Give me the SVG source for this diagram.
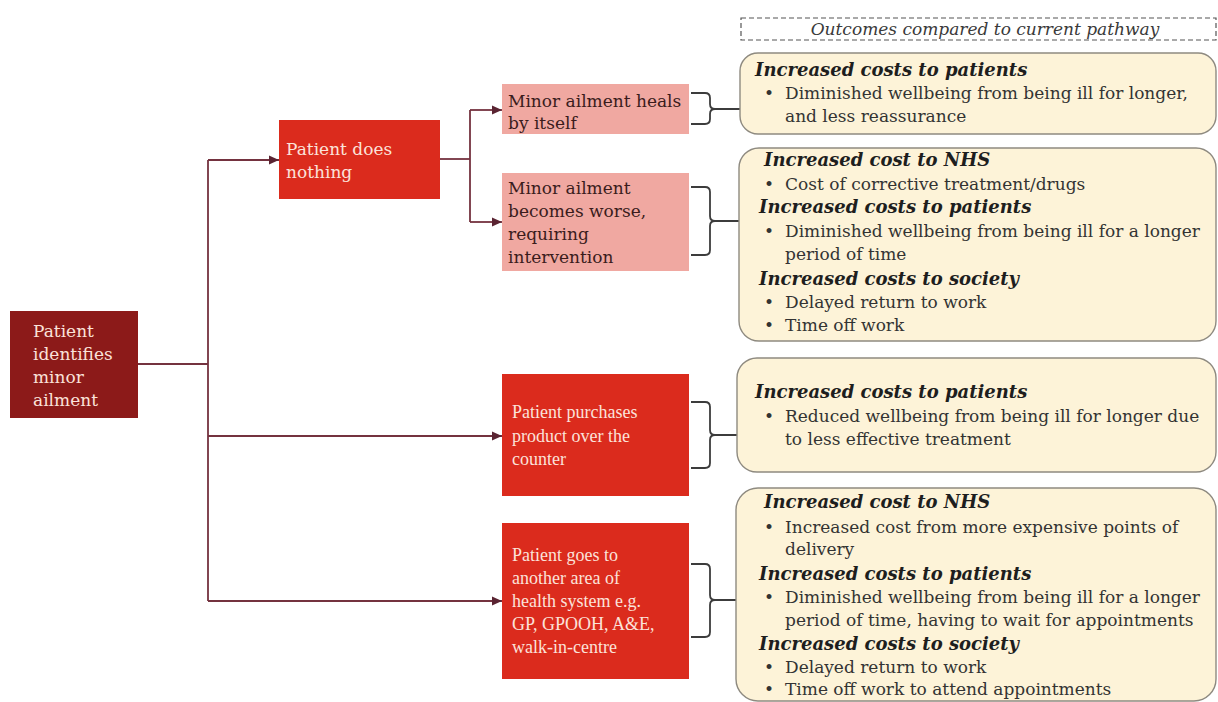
<svg xmlns="http://www.w3.org/2000/svg" width="1218" height="702" viewBox="0 0 1218 702">
  <defs>
    <marker id="arrow" markerUnits="userSpaceOnUse" markerWidth="10" markerHeight="10" refX="10" refY="5" orient="auto">
      <path d="M0,0.5 L10,5 L0,9.5 z" fill="#5a2432"/>
    </marker>
    <style>
      .link { fill: none; stroke: #74323f; stroke-width: 1.8; }
      .brace { fill: none; stroke: #3c3c3c; stroke-width: 1.8; }
      .root { fill: #8c1a19; }
      .red { fill: #db2b1d; }
      .pink { fill: #f0a8a1; }
      .outcome { fill: #fdf3d8; stroke: #8e8a80; stroke-width: 1.4; }
      .t { font-family: "DejaVu Serif", "Liberation Serif", serif; font-size: 17px; }
      .tn { font-family: "Liberation Serif", "DejaVu Serif", serif; font-size: 18px; }
      .light { fill: #fbe2da; }
      .dark { fill: #3a1c1c; }
      .body { font-family: "DejaVu Serif", "Liberation Serif", serif; font-size: 17px; fill: #333; }
      .head { font-family: "DejaVu Serif", "Liberation Serif", serif; font-size: 18px; font-weight: bold; font-style: italic; fill: #1e1e1e; }
      .note { font-family: "DejaVu Serif", "Liberation Serif", serif; font-size: 17px; font-style: italic; fill: #3a3a3a; }
    </style>
  </defs>

  <!-- connectors -->
  <g id="connectors">
    <path class="link" d="M138,364 H208"/>
    <path class="link" d="M208,160 V601"/>
    <path class="link" d="M208,160 H279" marker-end="url(#arrow)"/>
    <path class="link" d="M208,436 H502" marker-end="url(#arrow)"/>
    <path class="link" d="M208,601 H502" marker-end="url(#arrow)"/>
    <path class="link" d="M440,159 H470"/>
    <path class="link" d="M470,110 V222"/>
    <path class="link" d="M470,110 H502" marker-end="url(#arrow)"/>
    <path class="link" d="M470,222 H502" marker-end="url(#arrow)"/>
    <!-- braces joining each option to its outcomes -->
    <path class="brace" d="M691,93 H705 Q710,93 710,98 V104 Q710,109 715,109 Q710,109 710,114 V119 Q710,124 705,124 H691 M715,109 H740"/>
    <path class="brace" d="M691,187 H705 Q710,187 710,192 V216 Q710,221 715,221 Q710,221 710,226 V250 Q710,255 705,255 H691 M715,221 H739"/>
    <path class="brace" d="M691,402 H705 Q710,402 710,407 V430 Q710,435 715,435 Q710,435 710,440 V463 Q710,468 705,468 H691 M715,435 H737"/>
    <path class="brace" d="M691,564 H705 Q710,564 710,569 V595 Q710,600 715,600 Q710,600 710,605 V632 Q710,637 705,637 H691 M715,600 H736"/>
  </g>

  <!-- starting point -->
  <g id="identifies">
    <rect class="root" x="10" y="311" width="128" height="107"/>
    <text class="t light"><tspan x="33" y="337">Patient</tspan><tspan x="33" y="360">identifies</tspan><tspan x="33" y="383">minor</tspan><tspan x="33" y="406">ailment</tspan></text>
  </g>

  <g id="does-nothing">
    <rect class="red" x="279" y="120" width="161" height="79"/>
    <text class="t light"><tspan x="286" y="155">Patient does</tspan><tspan x="286" y="178">nothing</tspan></text>
  </g>

  <g id="heals">
    <rect class="pink" x="502" y="84" width="187" height="50"/>
    <text class="t dark"><tspan x="508" y="107">Minor ailment heals</tspan><tspan x="508" y="129">by itself</tspan></text>
  </g>

  <g id="worse">
    <rect class="pink" x="502" y="173" width="187" height="98"/>
    <text class="t dark"><tspan x="508" y="194">Minor ailment</tspan><tspan x="508" y="217">becomes worse,</tspan><tspan x="508" y="240">requiring</tspan><tspan x="508" y="263">intervention</tspan></text>
  </g>

  <g id="purchases">
    <rect class="red" x="502" y="374" width="187" height="122"/>
    <text class="tn light"><tspan x="512" y="418">Patient purchases</tspan><tspan x="512" y="442">product over the</tspan><tspan x="512" y="465">counter</tspan></text>
  </g>

  <g id="other-area">
    <rect class="red" x="502" y="523" width="187" height="156"/>
    <text class="tn light"><tspan x="512" y="561">Patient goes to</tspan><tspan x="512" y="584">another area of</tspan><tspan x="512" y="607">health system e.g.</tspan><tspan x="512" y="630">GP, GPOOH, A&amp;E,</tspan><tspan x="512" y="653">walk-in-centre</tspan></text>
  </g>

  <!-- column caption -->
  <g id="caption">
    <rect x="741" y="18" width="475" height="22" fill="none" stroke="#555" stroke-width="1.2" stroke-dasharray="5,3"/>
    <text class="note" x="985" y="35" text-anchor="middle">Outcomes compared to current pathway</text>
  </g>

  <!-- outcome panels -->
  <g id="outcome-heals">
    <rect class="outcome" x="740" y="53" width="476" height="81" rx="18"/>
    <text class="head" x="755" y="76">Increased costs to patients</text>
    <text class="body"><tspan x="764" y="99">•</tspan><tspan x="785" y="99">Diminished wellbeing from being ill for longer,</tspan><tspan x="785" y="122">and less reassurance</tspan></text>
  </g>

  <g id="outcome-worse">
    <rect class="outcome" x="739" y="148" width="477" height="193" rx="20"/>
    <text class="head" x="764" y="166">Increased cost to NHS</text>
    <text class="body"><tspan x="764" y="190">•</tspan><tspan x="785" y="190">Cost of corrective treatment/drugs</tspan></text>
    <text class="head" x="759" y="213">Increased costs to patients</text>
    <text class="body"><tspan x="764" y="237">•</tspan><tspan x="785" y="237">Diminished wellbeing from being ill for a longer</tspan><tspan x="785" y="260">period of time</tspan></text>
    <text class="head" x="759" y="285">Increased costs to society</text>
    <text class="body"><tspan x="764" y="308">•</tspan><tspan x="785" y="308">Delayed return to work</tspan><tspan x="764" y="331">•</tspan><tspan x="785" y="331">Time off work</tspan></text>
  </g>

  <g id="outcome-purchases">
    <rect class="outcome" x="737" y="358" width="479" height="114" rx="20"/>
    <text class="head" x="755" y="398">Increased costs to patients</text>
    <text class="body"><tspan x="764" y="422">•</tspan><tspan x="785" y="422">Reduced wellbeing from being ill for longer due</tspan><tspan x="785" y="445">to less effective treatment</tspan></text>
  </g>

  <g id="outcome-other-area">
    <rect class="outcome" x="736" y="488" width="480" height="213" rx="22"/>
    <text class="head" x="764" y="508">Increased cost to NHS</text>
    <text class="body"><tspan x="764" y="533">•</tspan><tspan x="785" y="533">Increased cost from more expensive points of</tspan><tspan x="785" y="555">delivery</tspan></text>
    <text class="head" x="759" y="580">Increased costs to patients</text>
    <text class="body"><tspan x="764" y="603">•</tspan><tspan x="785" y="603">Diminished wellbeing from being ill for a longer</tspan><tspan x="785" y="626">period of time, having to wait for appointments</tspan></text>
    <text class="head" x="759" y="650">Increased costs to society</text>
    <text class="body"><tspan x="764" y="673">•</tspan><tspan x="785" y="673">Delayed return to work</tspan><tspan x="764" y="695">•</tspan><tspan x="785" y="695">Time off work to attend appointments</tspan></text>
  </g>
</svg>
